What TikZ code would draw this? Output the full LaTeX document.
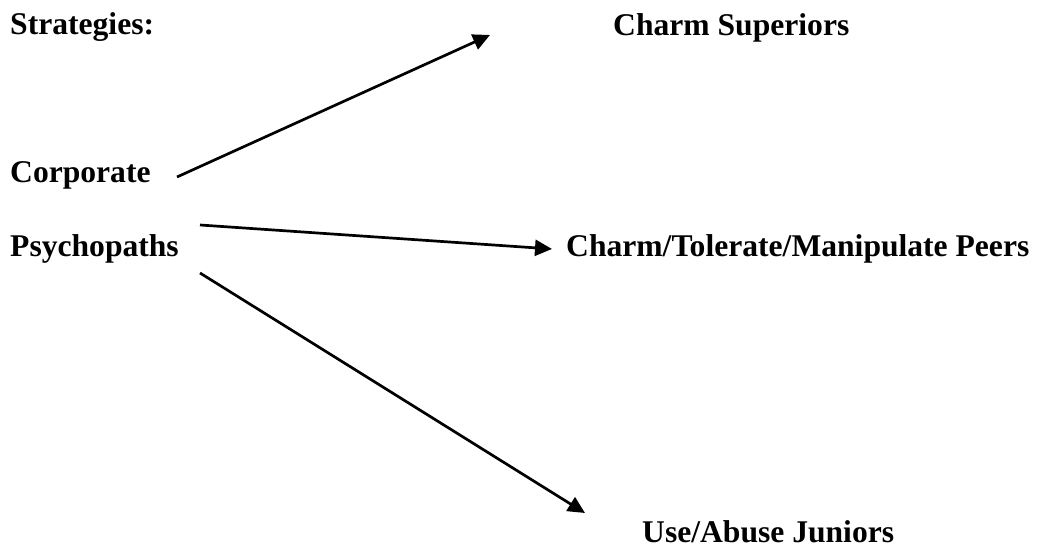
\documentclass[tikz,border=0pt]{standalone}
\usepackage{fontspec}
\setmainfont{Liberation Serif}
\usetikzlibrary{arrows.meta}
\begin{document}
\begin{tikzpicture}[x=1pt,y=1pt,
  lbl/.style={anchor=base west, inner sep=0pt, font=\fontsize{31.6}{36}\selectfont\bfseries},
  conn/.style={line width=2.7pt, -{Triangle[length=17pt,width=16pt]}}]
\useasboundingbox (0,0) rectangle (1041,553);
\node[lbl] (strat) at (10,518) {Strategies:};
\node[lbl] (sup) at (613,517) {Charm Superiors};
\node[lbl] (corp) at (10,370) {Corporate};
\node[lbl] (psy) at (10,296) {Psychopaths};
\node[lbl] (peers) at (566,296) {Charm/Tolerate/Manipulate Peers};
\node[lbl] (jun) at (642,10) {Use/Abuse Juniors};
\coordinate (a1s) at (177,376);
\coordinate (a1e) at (490,518);
\coordinate (a2s) at (200,328);
\coordinate (a2e) at (552,304);
\coordinate (a3s) at (200,280);
\coordinate (a3e) at (585,40);
\draw[conn] (a1s) -- (a1e);
\draw[conn] (a2s) -- (a2e);
\draw[conn] (a3s) -- (a3e);
\end{tikzpicture}
\end{document}
